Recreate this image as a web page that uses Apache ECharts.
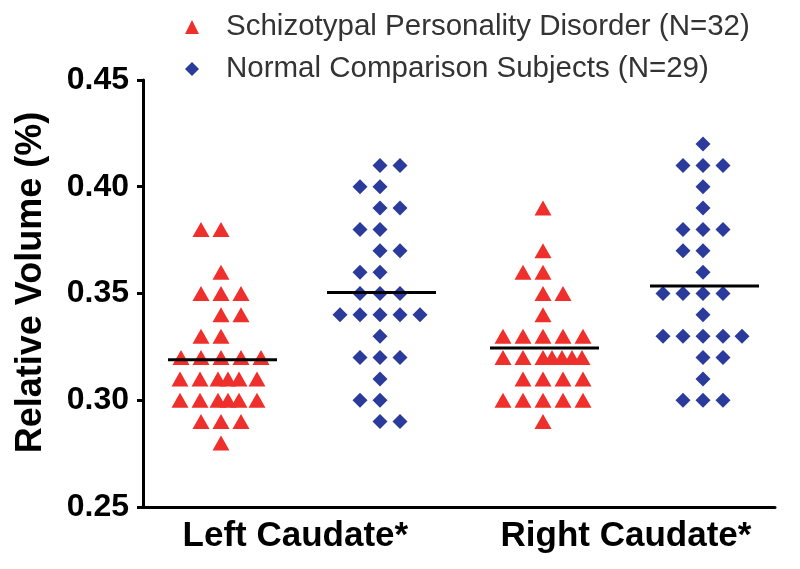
<!DOCTYPE html>
<html>
<head>
<meta charset="utf-8">
<script src="https://cdn.jsdelivr.net/npm/echarts@6/dist/echarts.min.js"></script>
<style>html,body{margin:0;padding:0;background:#fff}#c{width:800px;height:569px}</style>
</head>
<body>
<div id="c"></div>
<script>
// ---- data ----
const regions = ['Left Caudate*', 'Right Caudate*'];
const seriesNames = ['Schizotypal Personality Disorder (N=32)', 'Normal Comparison Subjects (N=29)'];
const yTicks = [0.25, 0.30, 0.35, 0.40, 0.45];

// each group: values (relative volume %) and dot-plot column slot of each dot
const leftSPDValues = [0.38,0.38, 0.36, 0.35,0.35,0.35, 0.34,0.34, 0.33,0.33,
  0.32,0.32,0.32,0.32,0.32, 0.31,0.31,0.31,0.31,0.31,0.31,
  0.30,0.30,0.30,0.30,0.30,0.30, 0.29,0.29,0.29, 0.28];
const leftSPDSlots = [-1,0, 0, -1,0,1, 0,1, -1,0,
  -2,-1,0,1,2, -2.05,-1.05,-0.15,0.35,0.9,1.8,
  -2.05,-1.05,-0.15,0.35,0.9,1.8, -1,0,1, 0];

const leftNCSValues = [0.41,0.41, 0.40,0.40, 0.39,0.39, 0.38,0.38, 0.37,0.37, 0.36,0.36,
  0.35,0.35,0.35, 0.34,0.34,0.34,0.34,0.34, 0.33, 0.32,0.32,0.32, 0.31, 0.30,0.30, 0.29,0.29];
const leftNCSSlots = [0,1, -1,0, 0,1, -1,0, 0,1, -1,0,
  -1,0,1, -2,-1,0,1,2, 0, -1,0,1, 0, -1,0, 0,1];

const rightSPDValues = [0.39, 0.37, 0.36,0.36, 0.35,0.35, 0.34,
  0.33,0.33,0.33,0.33,0.33, 0.32,0.32,0.32,0.32,0.32,0.32,0.32,
  0.31,0.31,0.31,0.31, 0.30,0.30,0.30,0.30,0.30, 0.29];
const rightSPDSlots = [0, 0, -1,0, 0,1, 0,
  -2,-1,0,1,2, -2,-1,0,0.45,0.95,1.45,1.95,
  -1,0,1,2, -2,-1,0,1,2, 0];

const rightNCSValues = [0.42, 0.41,0.41,0.41, 0.40, 0.39, 0.38,0.38,0.38, 0.37,0.37, 0.36,
  0.35,0.35,0.35,0.35, 0.34, 0.33,0.33,0.33,0.33,0.33, 0.32,0.32, 0.31, 0.30,0.30,0.30];
const rightNCSSlots = [0, -1,0,1, 0, 0, -1,0,1, -1,0, 0,
  -2,-1,0,1, 0, -2,-1,0,1,1.95, 0,1, 0, -1,0,1];

// medians (horizontal bars)
const medianLeftSPD = 0.319;
const medianLeftNCS = 0.3505;
const medianRightSPD = 0.3245;
const medianRightNCS = 0.3535;

// ---- layout (x in dot-column units) ----
const groupCenter = {lSPD: 3.9, lNCS: 11.85, rSPD: 20.0, rNCS: 28.0};
const regionLabelPos = [7.62, 24.15];
const barLeft = 2.65, barRight = 2.8;

function pts(vals, slots, c) { return vals.map((v, i) => [c + slots[i], v]); }
function bar(c, m) { return [[c - barLeft, m], [c + barRight, m]]; }

const red = '#ee2f2b';
const blue = '#2b3b9c';
const font = 'Liberation Sans, Arial, Helvetica, sans-serif';

const chart = echarts.init(document.getElementById('c'));
chart.setOption({
  animation: false,
  backgroundColor: '#fff',
  grid: {left: 143, right: 25, top: 80, bottom: 62},
  legend: {
    orient: 'vertical', left: 180, top: 7, itemGap: 12,
    itemWidth: 14, itemHeight: 14,
    textStyle: {fontFamily: font, fontSize: 29.5, color: '#333', padding: [0, 0, 0, 22]},
    data: [
      {name: seriesNames[0], icon: 'triangle', itemStyle: {color: red}},
      {name: seriesNames[1], icon: 'diamond', itemStyle: {color: blue}}
    ]
  },
  xAxis: {
    type: 'value', min: 0, max: 31.6,
    splitLine: {show: false},
    axisLine: {show: true, onZero: false, lineStyle: {color: '#000', width: 3}},
    axisTick: {show: false},
    axisLabel: {
      customValues: regionLabelPos,
      formatter: v => regions[regionLabelPos.indexOf(v)] || '',
      fontFamily: font, fontWeight: 'bold', fontSize: 35, color: '#000', margin: 12
    }
  },
  yAxis: {
    type: 'value', min: yTicks[0], max: yTicks[yTicks.length - 1], interval: 0.05,
    name: 'Relative Volume (%)', nameLocation: 'middle', nameGap: 94, nameRotate: 90,
    nameTextStyle: {fontFamily: font, fontWeight: 'bold', fontSize: 36, color: '#000', padding: [0, 0, 0, 22]},
    splitLine: {show: false},
    axisLine: {show: true, lineStyle: {color: '#000', width: 3}},
    axisTick: {show: true, length: 6, lineStyle: {color: '#000', width: 3}},
    axisLabel: {
      formatter: v => v.toFixed(2),
      fontFamily: font, fontWeight: 'bold', fontSize: 32, color: '#000', margin: 14
    }
  },
  series: [
    {name: seriesNames[0], type: 'scatter', symbol: 'triangle', symbolSize: [17, 15],
      itemStyle: {color: red, opacity: 1},
      data: pts(leftSPDValues, leftSPDSlots, groupCenter.lSPD).concat(pts(rightSPDValues, rightSPDSlots, groupCenter.rSPD)), z: 3},
    {name: seriesNames[1], type: 'scatter', symbol: 'diamond', symbolSize: 15,
      itemStyle: {color: blue, opacity: 1},
      data: pts(leftNCSValues, leftNCSSlots, groupCenter.lNCS).concat(pts(rightNCSValues, rightNCSSlots, groupCenter.rNCS)), z: 3},
    ...[[groupCenter.lSPD, medianLeftSPD], [groupCenter.lNCS, medianLeftNCS],
        [groupCenter.rSPD, medianRightSPD], [groupCenter.rNCS, medianRightNCS]].map(([c, m]) => ({
      type: 'line', data: bar(c, m), symbol: 'none', silent: true, z: 4,
      lineStyle: {color: '#000', width: 3}
    }))
  ]
});
</script>
</body>
</html>
